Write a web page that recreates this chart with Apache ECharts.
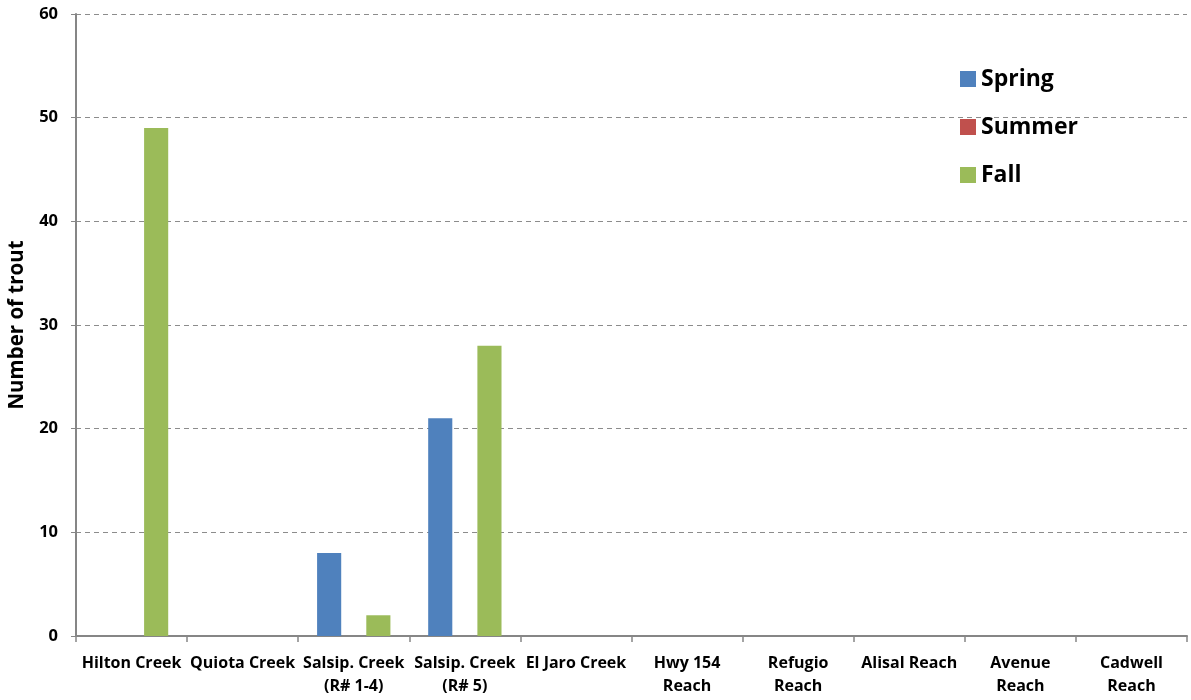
<!DOCTYPE html>
<html><head><meta charset="utf-8">
<script src="https://cdn.jsdelivr.net/npm/echarts@6/dist/echarts.min.js"></script>
<style>html,body{margin:0;padding:0;background:#fff}#c{width:1191px;height:700px}</style>
</head><body><div id="c"></div>
<script>
const categories = ['Hilton Creek','Quiota Creek','Salsip. Creek\n(R# 1-4)','Salsip. Creek\n(R# 5)','El Jaro Creek','Hwy 154\nReach','Refugio\nReach','Alisal Reach','Avenue\nReach','Cadwell\nReach'];
const spring = [0,0,8,21,0,0,0,0,0,0];
const summer = [0,0,0,0,0,0,0,0,0,0];
const fall = [49,0,2,28,0,0,0,0,0,0];
const yTicks = {min:0,max:60,interval:10};
const font = '"Open Sans", sans-serif';
const chart = echarts.init(document.getElementById('c'));
chart.setOption({
  animation:false,
  grid:{left:76,right:4,top:14,bottom:64,containLabel:false,outerBoundsMode:'none'},
  legend:{orient:'vertical',left:955,top:62,itemWidth:16,itemHeight:16,itemGap:24,
    icon:'rect',textStyle:{fontFamily:font,fontWeight:'bold',fontSize:23,lineHeight:24,color:'#000'},
    data:['Spring','Summer','Fall']},
  xAxis:{type:'category',data:categories,
    axisLine:{lineStyle:{color:'#868686',width:2}},
    axisTick:{show:true,length:6,lineStyle:{color:'#868686',width:1.5}},
    axisLabel:{interval:0,fontFamily:font,fontWeight:'bold',fontSize:16,color:'#000',lineHeight:23,margin:16}},
  yAxis:{type:'value',min:yTicks.min,max:yTicks.max,interval:yTicks.interval,
    name:'Number of trout',nameLocation:'middle',nameGap:48,
    nameTextStyle:{fontFamily:font,fontWeight:'bold',fontSize:20.5,color:'#000'},
    axisLine:{show:true,lineStyle:{color:'#868686',width:2}},
    axisTick:{show:true,length:5,lineStyle:{color:'#868686'}},
    axisLabel:{fontFamily:font,fontWeight:'bold',fontSize:16.5,color:'#000',margin:18},
    splitLine:{lineStyle:{color:'#8c8c8c',type:[5,4],width:1}}},
  series:[
    {name:'Spring',type:'bar',data:spring,barGap:'2%',barCategoryGap:'34%',itemStyle:{color:'#4f81bd'}},
    {name:'Summer',type:'bar',data:summer,itemStyle:{color:'#c0504d'}},
    {name:'Fall',type:'bar',data:fall,itemStyle:{color:'#9bbb59'}}
  ]
});
</script></body></html>
